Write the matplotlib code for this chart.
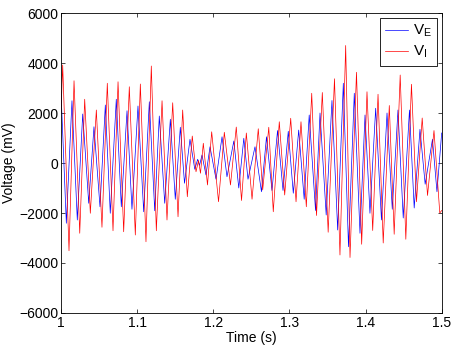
import numpy as np
import matplotlib
matplotlib.use("Agg")
import matplotlib.pyplot as plt

plt.rcParams['font.family'] = ['Liberation Sans', 'DejaVu Sans']
plt.rcParams['mathtext.fontset'] = 'custom'
plt.rcParams['mathtext.rm'] = 'Liberation Sans'

# -----------------------------
# Data (peaks / troughs of each trace)
# -----------------------------
t_e = [1.0000, 1.0070, 1.0144, 1.0214, 1.0285, 1.0364, 1.0433, 1.0512, 1.0582, 1.0647,
       1.0726, 1.0792, 1.0867, 1.0932, 1.1011, 1.1086, 1.1160, 1.1231, 1.1291, 1.1362,
       1.1436, 1.1501, 1.1567, 1.1622, 1.1694, 1.1757, 1.1795, 1.1819, 1.1852, 1.1904,
       1.1957, 1.2036, 1.2115, 1.2180, 1.2270, 1.2335, 1.2401, 1.2456, 1.2548, 1.2633,
       1.2699, 1.2771, 1.2844, 1.2916, 1.2985, 1.3051, 1.3122, 1.3194, 1.3260, 1.3343,
       1.3402, 1.3483, 1.3559, 1.3634, 1.3708, 1.3776, 1.3852, 1.3927, 1.3993, 1.4058,
       1.4133, 1.4209, 1.4282, 1.4351, 1.4426, 1.4495, 1.4577, 1.4639, 1.4715, 1.4783,
       1.4879, 1.4938, 1.5000]
v_e = [2850, -2410, 2490, -2280, 1960, -1610, 1450, -1750, 2320, -2010,
       2550, -1750, 2090, -1850, 2280, -1950, 2450, -1910, 1880, -1610,
       1750, -1450, 1430, -810, 950, -250, 150, -100, 320, -480,
       650, -650, 1050, -550, 880, -1000, 990, -650, 650, -1150,
       1050, -1100, 1300, -1100, 1270, -1210, 1320, -1450, 1920, -1900,
       2000, -2080, 2500, -2680, 3190, -3350, 2790, -2810, 1920, -2010,
       2190, -2280, 2000, -1850, 2120, -2200, 2120, -1800, 1350, -850,
       950, -1150, 1200]

t_i = [1.0000, 1.0022, 1.0105, 1.0171, 1.0246, 1.0311, 1.0385, 1.0464, 1.0538, 1.0608,
       1.0683, 1.0749, 1.0823, 1.0897, 1.0976, 1.1042, 1.1116, 1.1186, 1.1252, 1.1327,
       1.1392, 1.1467, 1.1537, 1.1598, 1.1659, 1.1724, 1.1773, 1.1806, 1.1832, 1.1869,
       1.1924, 1.1979, 1.2069, 1.2145, 1.2226, 1.2302, 1.2371, 1.2434, 1.2509, 1.2591,
       1.2649, 1.2729, 1.2788, 1.2867, 1.2938, 1.3017, 1.3087, 1.3152, 1.3222, 1.3293,
       1.3356, 1.3432, 1.3509, 1.3592, 1.3664, 1.3739, 1.3796, 1.3881, 1.3949, 1.4019,
       1.4094, 1.4164, 1.4232, 1.4312, 1.4376, 1.4455, 1.4529, 1.4603, 1.4669, 1.4744,
       1.4814, 1.4899, 1.4975, 1.5000]
v_i = [2000, 3920, -3510, 3290, -2810, 2550, -2010, 2120, -2570, 3190,
       -2710, 3250, -2750, 3050, -2880, 3160, -3150, 3880, -2710, 2490,
       -2280, 2410, -2150, 2120, -1350, 1080, -350, 100, -410, 790,
       -880, 1250, -1550, 1230, -880, 1440, -1500, 1200, -1450, 1370,
       -1080, 1430, -1950, 1650, -1280, 1790, -1550, 1650, -1750, 2790,
       -2100, 2820, -2770, 3370, -3680, 4700, -3780, 3630, -3250, 2850,
       -2700, 2750, -3200, 2300, -2850, 3520, -3050, 3150, -1550, 1800,
       -1300, 1300, -2000, -1900]

x_ticks = [1, 1.1, 1.2, 1.3, 1.4, 1.5]
x_ticklabels = ['1', '1.1', '1.2', '1.3', '1.4', '1.5']
y_ticks = [-6000, -4000, -2000, 0, 2000, 4000, 6000]

# -----------------------------
# Plot
# -----------------------------
fig = plt.figure(figsize=(4.56, 3.47), dpi=100)
ax = fig.add_axes([0.1338, 0.098, 0.8348, 0.8645])

ax.plot(t_e, v_e, color='b', lw=0.5, label=r'$\mathregular{V_E}$')
ax.plot(t_i, v_i, color='r', lw=0.5, label=r'$\mathregular{V_I}$')

ax.set_xlim(1, 1.5)
ax.set_ylim(-6000, 6000)
ax.set_xticks(x_ticks)
ax.set_xticklabels(x_ticklabels)
ax.set_yticks(y_ticks)
ax.tick_params(direction='in', top=True, right=True, length=3, width=0.5,
               labelsize=10, pad=2)
for s in ax.spines.values():
    s.set_linewidth(0.6)

ax.set_xlabel('Time (s)', fontsize=10, labelpad=1)
ax.set_ylabel('Voltage (mV)', fontsize=10, labelpad=2)

leg = ax.legend(loc='upper right', fontsize=11, fancybox=False, framealpha=1,
                edgecolor='black', handlelength=1.5, borderaxespad=0.3,
                borderpad=0.35, labelspacing=0.3, handletextpad=0.3)
leg.get_frame().set_linewidth(0.6)

fig.savefig('out.png', dpi=100)
